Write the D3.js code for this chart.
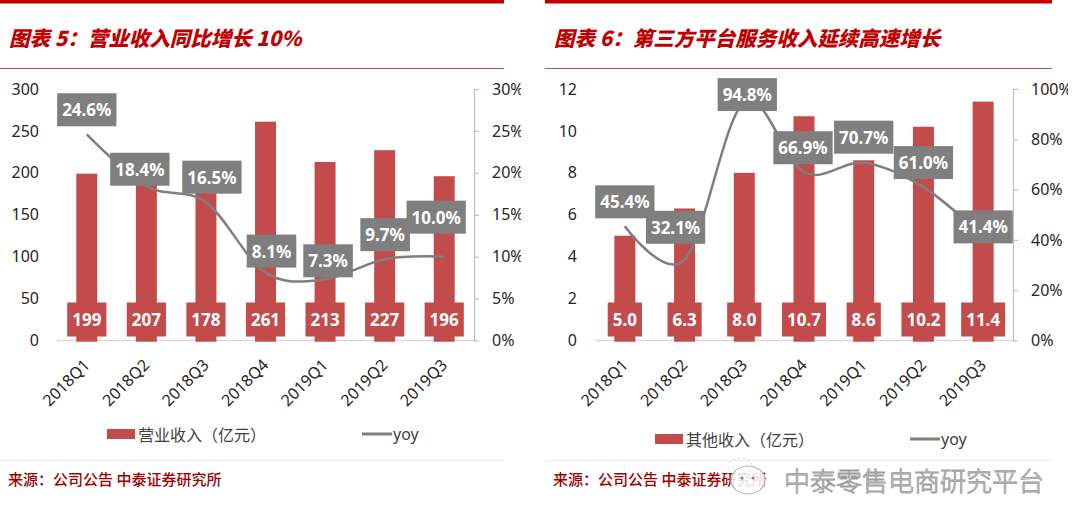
<!DOCTYPE html>
<html>
<head>
<meta charset="utf-8">
<script src="https://cdn.jsdelivr.net/npm/d3@7"></script>
<style>
  html, body { margin: 0; padding: 0; background: #ffffff; }
  svg { display: block; }
</style>
</head>
<body>
<svg id="chart" width="1080" height="527"></svg>
<script>
// ---------------- data ----------------
const categories = ["2018Q1", "2018Q2", "2018Q3", "2018Q4", "2019Q1", "2019Q2", "2019Q3"];

// Chart 5
const revenue = [199, 207, 178, 261, 213, 227, 196];          // 营业收入（亿元）
const revenueYoy = [24.6, 18.4, 16.5, 8.1, 7.3, 9.7, 10.0];     // yoy %
const revenueTicks = [0, 50, 100, 150, 200, 250, 300];
const revenueYoyTicks = [0, 5, 10, 15, 20, 25, 30];

// Chart 6
const otherIncome = [5.0, 6.3, 8.0, 10.7, 8.6, 10.2, 11.4];    // 其他收入（亿元）
const otherYoy = [45.4, 32.1, 94.8, 66.9, 70.7, 61.0, 41.4];    // yoy %
const otherTicks = [0, 2, 4, 6, 8, 10, 12];
const otherYoyTicks = [0, 20, 40, 60, 80, 100];

// ---------------- layout (label placement nudges, not data) ----------------
const leftLabelDx  = [0, -6.5, 6, 6, 3, 0.5, -8];
const leftLabelGap = [8, 0.5, 8.5, 5, 2, 8, 23];
const rightLabelDx  = [0, -9, 3, -1, 0, 0, 0];
const rightLabelGap = [8, 16, -9, 8, 9, 8, -7];

const BAR = "#c44b4b";
const GRAY = "#7f7f7f";
const TITLE_RED = "#c00000";
const CJK = "'Noto Sans CJK SC', 'Noto Sans', sans-serif";
const NUM = "'Noto Sans', 'Open Sans', sans-serif";

const svg = d3.select("#chart");
const defs = svg.append("defs");
defs.append("clipPath").attr("id", "clipL").append("rect").attr("x", 0).attr("y", 0).attr("width", 521).attr("height", 527);
defs.append("clipPath").attr("id", "clipR").append("rect").attr("x", 540).attr("y", 0).attr("width", 528).attr("height", 527);

const TOP = 89, BOTTOM = 340.5;

function panelFrame(px0, px1, title, source) {
  svg.append("rect").attr("x", px0).attr("y", 0).attr("width", px1 - px0).attr("height", 3.5).attr("fill", TITLE_RED);
  svg.append("text").attr("x", px0 + 9).attr("y", 37)
    .attr("dominant-baseline", "central")
    .attr("font-family", CJK).attr("font-size", 20.5).attr("font-weight", 900)
    .attr("font-style", "italic").attr("fill", TITLE_RED).text(title);
  svg.append("line").attr("x1", px0).attr("x2", px1).attr("y1", 68.5).attr("y2", 68.5)
    .attr("stroke", "#c0504d").attr("stroke-width", 1);
  svg.append("line").attr("x1", px0).attr("x2", px1).attr("y1", 460.5).attr("y2", 460.5)
    .attr("stroke", "#efefef").attr("stroke-width", 1.5);
  svg.append("text").attr("x", px0 + 8).attr("y", 478)
    .attr("dominant-baseline", "central")
    .attr("font-family", CJK).attr("font-size", 15).attr("font-weight", 500)
    .attr("fill", "#a00000").text(source);
}

function drawChart(cfg) {
  const g = svg.append("g");
  const x = d3.scaleBand().domain(categories).range([cfg.x0, cfg.x1]);
  const bw = x.bandwidth() * 0.352;
  const cx = c => x(c) + x.bandwidth() / 2;
  const y = d3.scaleLinear().domain([0, cfg.yMax]).range([BOTTOM, TOP]);
  const yr = d3.scaleLinear().domain([0, cfg.pctMax]).range([BOTTOM, TOP]);

  // left value axis (labels only)
  const la = g.append("g").attr("transform", `translate(${cfg.x0},0)`)
    .call(d3.axisLeft(y).tickValues(cfg.yTicks).tickSize(0).tickPadding(18));
  la.select(".domain").remove();
  la.selectAll("text").attr("font-family", NUM).attr("font-size", 16).attr("fill", "#262626");

  // right percent axis
  const ra = g.append("g").attr("clip-path", `url(#${cfg.clip})`)
    .append("g").attr("transform", `translate(${cfg.x1},0)`)
    .call(d3.axisRight(yr).tickValues(cfg.pctTicks).tickSize(5).tickSizeOuter(0).tickPadding(13).tickFormat(d => d + "%"));
  ra.select(".domain").attr("stroke", "#bfbfbf").attr("stroke-width", 1.2);
  ra.selectAll(".tick line").attr("stroke", "#bfbfbf").attr("stroke-width", 1.2);
  ra.selectAll("text").attr("font-family", NUM).attr("font-size", 16).attr("fill", "#262626");

  // baseline
  g.append("line").attr("x1", cfg.x0).attr("x2", cfg.x1).attr("y1", y(0)).attr("y2", y(0))
    .attr("stroke", "#d9d9d9").attr("stroke-width", 1.5);

  // bars
  g.selectAll("rect.bar").data(cfg.bars).join("rect").attr("class", "bar")
    .attr("x", (d, i) => cx(categories[i]) - bw / 2)
    .attr("y", d => y(d))
    .attr("width", bw)
    .attr("height", d => y(0) - y(d) + 1.2)
    .attr("fill", BAR);

  // bar value boxes at bar base
  cfg.bars.forEach((v, i) => {
    const bx = cx(categories[i]);
    const grp = g.append("g");
    const t = grp.append("text").attr("x", bx).attr("y", y(0) - 21)
      .attr("text-anchor", "middle").attr("dominant-baseline", "central")
      .attr("font-family", NUM).attr("font-size", 17).attr("font-weight", 700)
      .attr("fill", "#ffffff").text(cfg.fmt(v));
    const tw = t.node().getComputedTextLength();
    grp.insert("rect", "text").attr("x", bx - (tw + 10) / 2).attr("y", y(0) - 38)
      .attr("width", tw + 10).attr("height", 34).attr("fill", BAR);
  });

  // category labels
  g.selectAll("text.cat").data(categories).join("text").attr("class", "cat")
    .attr("transform", d => `translate(${cx(d) + 4},${366}) rotate(-45)`)
    .attr("text-anchor", "end")
    .attr("font-family", NUM).attr("font-size", 16).attr("fill", "#262626")
    .text(d => d);

  // yoy smooth line
  const line = d3.line().x((d, i) => cx(categories[i])).y(d => yr(d)).curve(d3.curveCardinal.tension(0));
  g.append("path").datum(cfg.yoy).attr("d", line)
    .attr("fill", "none").attr("stroke", GRAY).attr("stroke-width", 2.5);

  // yoy label boxes
  cfg.yoy.forEach((v, i) => {
    const bx = cx(categories[i]) + cfg.dx[i];
    const bottom = yr(v) - cfg.gap[i];
    const grp = g.append("g");
    const t = grp.append("text").attr("x", bx).attr("y", bottom - 16.5)
      .attr("text-anchor", "middle").attr("dominant-baseline", "central")
      .attr("font-family", NUM).attr("font-size", 17).attr("font-weight", 700)
      .attr("fill", "#ffffff").text(v.toFixed(1) + "%");
    const tw = t.node().getComputedTextLength();
    grp.insert("rect", "text").attr("x", bx - (tw + 10) / 2).attr("y", bottom - 33)
      .attr("width", tw + 10).attr("height", 33).attr("fill", GRAY);
  });

  // legend
  const lg = svg.append("g");
  lg.append("rect").attr("x", cfg.legX).attr("y", cfg.legY - 5).attr("width", 28).attr("height", 10).attr("fill", BAR);
  lg.append("text").attr("x", cfg.legX + 31).attr("y", cfg.legY).attr("dominant-baseline", "central")
    .attr("font-family", CJK).attr("font-size", 16).attr("fill", "#404040").text(cfg.legLabel);
  lg.append("line").attr("x1", cfg.legLineX).attr("x2", cfg.legLineX + 30).attr("y1", cfg.legY).attr("y2", cfg.legY)
    .attr("stroke", GRAY).attr("stroke-width", 3);
  lg.append("text").attr("x", cfg.legLineX + 31).attr("y", cfg.legY).attr("dominant-baseline", "central")
    .attr("font-family", NUM).attr("font-size", 16).attr("fill", "#404040").text("yoy");
}

panelFrame(0, 504, "图表 5：营业收入同比增长 10%", "来源：公司公告 中泰证券研究所");
panelFrame(545, 1052, "图表 6：第三方平台服务收入延续高速增长", "来源：公司公告 中泰证券研究所");

drawChart({
  x0: 57, x1: 474, bars: revenue, yoy: revenueYoy, yMax: 300, yTicks: revenueTicks,
  pctMax: 30, pctTicks: revenueYoyTicks, clip: "clipL", fmt: v => String(v),
  dx: leftLabelDx, gap: leftLabelGap,
  legX: 107, legY: 434, legLineX: 362, legLabel: "营业收入（亿元）"
});

drawChart({
  x0: 595, x1: 1013, bars: otherIncome, yoy: otherYoy, yMax: 12, yTicks: otherTicks,
  pctMax: 100, pctTicks: otherYoyTicks, clip: "clipR", fmt: v => v.toFixed(1),
  dx: rightLabelDx, gap: rightLabelGap,
  legX: 655, legY: 439, legLineX: 910, legLabel: "其他收入（亿元）"
});

// watermark
const wm = svg.append("g");
wm.append("ellipse").attr("cx", 748).attr("cy", 480).attr("rx", 17).attr("ry", 14)
  .attr("fill", "#ffffff").attr("fill-opacity", 0.85).attr("stroke", "#b5b5b5").attr("stroke-width", 1.2);
wm.append("ellipse").attr("cx", 740).attr("cy", 466).attr("rx", 12).attr("ry", 8)
  .attr("fill", "none").attr("stroke", "#d0d0d0").attr("stroke-width", 1).attr("stroke-dasharray", "2,3");
wm.append("circle").attr("cx", 742).attr("cy", 478).attr("r", 1.6).attr("fill", "#888");
wm.append("circle").attr("cx", 753).attr("cy", 478).attr("r", 1.6).attr("fill", "#888");
wm.append("text").attr("x", 784).attr("y", 479).attr("dominant-baseline", "central")
  .attr("font-family", CJK).attr("font-size", 26).attr("font-weight", 300)
  .attr("fill", "#f2f2f2").attr("stroke", "#9c9c9c").attr("stroke-width", 0.9)
  .text("中泰零售电商研究平台");
</script>
</body>
</html>
